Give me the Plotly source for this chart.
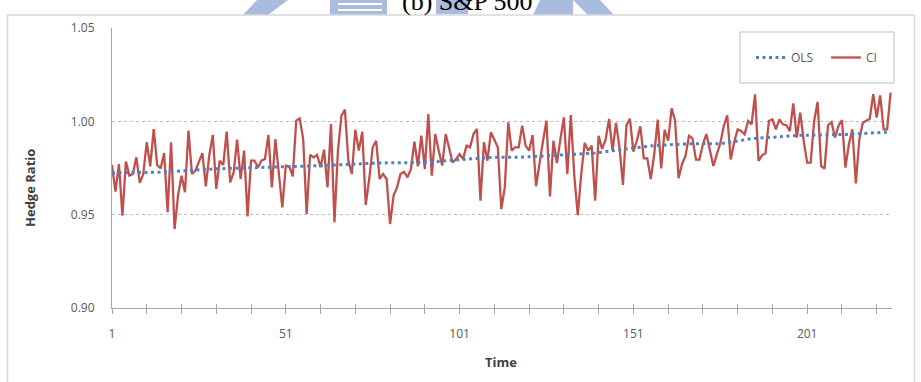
import plotly.graph_objects as go

# ---------------- data ----------------
ci_hedge = [
    0.9766, 0.9623, 0.9771, 0.9495, 0.9784, 0.9709, 0.9718, 0.9807, 0.9670, 0.9718,
    0.9888, 0.9759, 0.9959, 0.9766, 0.9748, 0.9830, 0.9513, 0.9888, 0.9423, 0.9602,
    0.9709, 0.9620, 0.9950, 0.9718, 0.9736, 0.9789, 0.9830, 0.9652, 0.9820, 0.9927,
    0.9638, 0.9789, 0.9766, 0.9945, 0.9673, 0.9727, 0.9902, 0.9691, 0.9843, 0.9491,
    0.9789, 0.9789, 0.9754, 0.9789, 0.9798, 0.9927, 0.9646, 0.9905, 0.9727, 0.9539,
    0.9763, 0.9759, 0.9705, 1.0004, 1.0016, 0.9905, 0.9504,
    0.9820, 0.9807, 0.9820, 0.9754, 0.9848, 0.9646, 0.9986, 0.9459, 0.9843, 1.0030,
    1.0063, 0.9789, 0.9718, 0.9955, 0.9843, 0.9945, 0.9552, 0.9691, 0.9861, 0.9896,
    0.9691, 0.9718, 0.9691, 0.9450, 0.9602, 0.9646, 0.9718, 0.9730, 0.9700, 0.9745,
    0.9891, 0.9759, 0.9923, 0.9745, 1.0039, 0.9709, 0.9932, 0.9843, 0.9763, 0.9932,
    0.9861, 0.9780, 0.9798, 0.9825, 0.9798, 0.9870, 0.9861, 0.9932, 0.9959, 0.9575,
    0.9888, 0.9789, 0.9941, 0.9896, 0.9861, 0.9530, 0.9646, 0.9995,
    0.9843, 0.9861, 0.9861, 0.9977, 0.9870, 0.9843, 0.9927, 0.9652, 0.9780, 0.9896,
    1.0004, 0.9598, 0.9896, 0.9777, 0.9905, 1.0021, 0.9718, 1.0034, 0.9709, 0.9498,
    0.9718, 0.9884, 0.9843, 0.9870, 0.9575, 0.9923, 0.9852, 0.9902, 1.0013, 0.9843,
    0.9991, 0.9861, 0.9659, 0.9980, 1.0013, 0.9838, 0.9896, 0.9973, 0.9802, 0.9802,
    0.9691, 0.9825, 1.0009, 0.9748, 0.9955, 0.9896, 1.0070, 1.0004, 0.9695, 0.9771,
    0.9816, 0.9923, 0.9909, 0.9795, 0.9795, 0.9877, 0.9932, 0.9843,
    0.9761, 0.9823, 0.9882, 0.9975, 1.0032, 0.9796, 0.9889, 0.9957, 0.9948, 0.9930,
    1.0002, 0.9984, 1.0145, 0.9788, 0.9818, 0.9829, 1.0002, 1.0011, 0.9957, 1.0011,
    0.9984, 0.9979, 0.9948, 1.0096, 0.9913, 1.0046, 0.9895, 0.9779, 0.9779, 1.0002,
    1.0104, 0.9761, 0.9746, 0.9979, 0.9996, 0.9913, 0.9975, 1.0007, 0.9752, 0.9877,
    0.9957, 0.9668, 0.9904, 0.9993, 1.0002, 1.0014, 1.0145, 1.0020, 1.0139, 0.9957,
    0.9957, 1.0154,
]
time_index = list(range(1, len(ci_hedge) + 1))

ols_time = [1, 15, 30, 42, 53, 60, 78, 92, 101, 111, 118, 130, 140, 149, 157, 167, 176, 185, 199, 212, 225]
ols_hedge = [0.9725, 0.9727, 0.9745, 0.9752, 0.9759, 0.9762, 0.9777, 0.9780, 0.9795, 0.9807, 0.9807,
             0.9820, 0.9830, 0.9852, 0.9870, 0.9880, 0.9880, 0.9907, 0.9925, 0.9930, 0.9943]

x_tick_vals = [1, 11, 21, 31, 41, 51, 61, 71, 81, 91, 101, 111, 121, 131, 141, 151, 161, 171, 181, 191, 201, 211, 221]
x_label_vals = [1, 51, 101, 151, 201]
y_tick_vals = [0.90, 0.95, 1.00, 1.05]
y_tick_text = ["0.90", "0.95", "1.00", "1.05"]

title_text = "(b) S&P 500"
x_title = "Time"
y_title = "Hedge Ratio"

# ---------------- layout helpers (pixel -> paper) ----------------
L, R, T, B = 112, 892, 28, 308
W, H = R - L, B - T


def px(p):
    return (p - L) / W


def py(p):
    return (B - p) / H


RED = "#C0504D"
BLUE = "#4F81BD"
AXIS = "#A6A6A6"
GRID = "#BFBFBF"
TXT = "#595959"
WM = "#A9BBDF"
FONT = "Open Sans"

fig = go.Figure()
fig.add_trace(go.Scatter(x=time_index, y=ci_hedge, mode="lines", name="CI",
                         line=dict(color=RED, width=2.3), legendrank=2))
fig.add_trace(go.Scatter(x=ols_time, y=ols_hedge, mode="lines", name="OLS",
                         line=dict(color=BLUE, width=3, dash="3px,3.5px"), legendrank=1))
# overlay axis for the inside half of the crossing ticks
fig.add_trace(go.Scatter(x=[time_index[0]], y=[ci_hedge[0]], xaxis="x2", mode="lines",
                         showlegend=False, hoverinfo="skip", line=dict(width=0)))

x_tick_text = [str(v) if v in x_label_vals else "" for v in x_tick_vals]

shapes = []
# watermark blobs behind the title
wm_polys = [
    [(257, 0), (288, 0), (268, 15), (243, 15)],
    [(330, 0), (387, 0), (387, 15), (330, 15)],
    [(436, 0), (468, 0), (468, 14), (436, 14)],
    [(540, 0), (573, 0), (573, 15), (533, 15)],
    [(573, 0), (600, 0), (614, 15), (588, 15)],
]
for poly in wm_polys:
    path = "M " + " L ".join(f"{px(a):.5f},{py(b):.5f}" for a, b in poly) + " Z"
    shapes.append(dict(type="path", xref="paper", yref="paper", path=path,
                       fillcolor=WM, line=dict(width=0), layer="below"))
# white bars inside the E-shaped blob
for y0, y1 in [(3, 5), (9, 11)]:
    shapes.append(dict(type="rect", xref="paper", yref="paper", x0=px(338), x1=px(382),
                       y0=py(y1), y1=py(y0), fillcolor="white", line=dict(width=0), layer="below"))
# chart-area frame
shapes.append(dict(type="rect", xref="paper", yref="paper", x0=px(7.5), x1=px(914.5),
                   y0=py(400), y1=py(15), line=dict(color="#D9D9D9", width=1.5),
                   fillcolor="rgba(0,0,0,0)", layer="below"))
# legend frame
shapes.append(dict(type="rect", xref="paper", yref="paper", x0=px(740), x1=px(894),
                   y0=py(83), y1=py(32), line=dict(color="#BFBFBF", width=1),
                   fillcolor="white", layer="above"))

annotations = [
    dict(text=title_text, xref="paper", yref="paper", x=px(467), y=py(18), xanchor="center",
         yanchor="bottom", showarrow=False, font=dict(family="Liberation Serif", size=26, color="black")),
    dict(text=f"<b>{x_title}</b>", xref="paper", yref="paper", x=px(501), y=py(362), xanchor="center",
         yanchor="middle", showarrow=False, font=dict(family=FONT, size=13, color="#404040")),
    dict(text=f"<b>{y_title}</b>", xref="paper", yref="paper", x=px(30), y=py(188), xanchor="center",
         yanchor="middle", showarrow=False, textangle=-90, font=dict(family=FONT, size=13, color="#404040")),
]

fig.update_layout(
    width=921, height=382,
    margin=dict(l=L, r=921 - R, t=T, b=382 - B),
    paper_bgcolor="white", plot_bgcolor="white",
    font=dict(family=FONT, size=12, color=TXT),
    showlegend=True,
    legend=dict(orientation="h", x=px(751), xanchor="left", y=py(57.5), yanchor="middle",
                bgcolor="rgba(0,0,0,0)", borderwidth=0, font=dict(family=FONT, size=12, color=TXT),
                traceorder="normal", entrywidth=30, entrywidthmode="pixels"),
    xaxis=dict(range=[1, 225.4], tickmode="array", tickvals=x_tick_vals, ticktext=x_tick_text,
               showgrid=False, zeroline=False, showline=True, linecolor=AXIS, linewidth=1,
               ticks="outside", ticklen=5, tickcolor=AXIS, tickwidth=1, ticklabelstandoff=10,
               tickfont=dict(family=FONT, size=12, color=TXT)),
    xaxis2=dict(range=[1, 225.4], overlaying="x", anchor="y", side="bottom", tickmode="array",
                tickvals=x_tick_vals, showticklabels=False, ticks="inside", ticklen=4,
                tickcolor=AXIS, tickwidth=1, showgrid=False, zeroline=False, showline=False),
    yaxis=dict(range=[0.90, 1.05], tickmode="array", tickvals=y_tick_vals, ticktext=y_tick_text,
               showgrid=True, gridcolor=GRID, griddash="dot", gridwidth=1, zeroline=False,
               showline=True, linecolor=AXIS, linewidth=1, ticks="", ticklabelstandoff=14,
               tickfont=dict(family=FONT, size=12, color=TXT)),
    shapes=shapes,
    annotations=annotations,
)

fig.write_html("out.html")
